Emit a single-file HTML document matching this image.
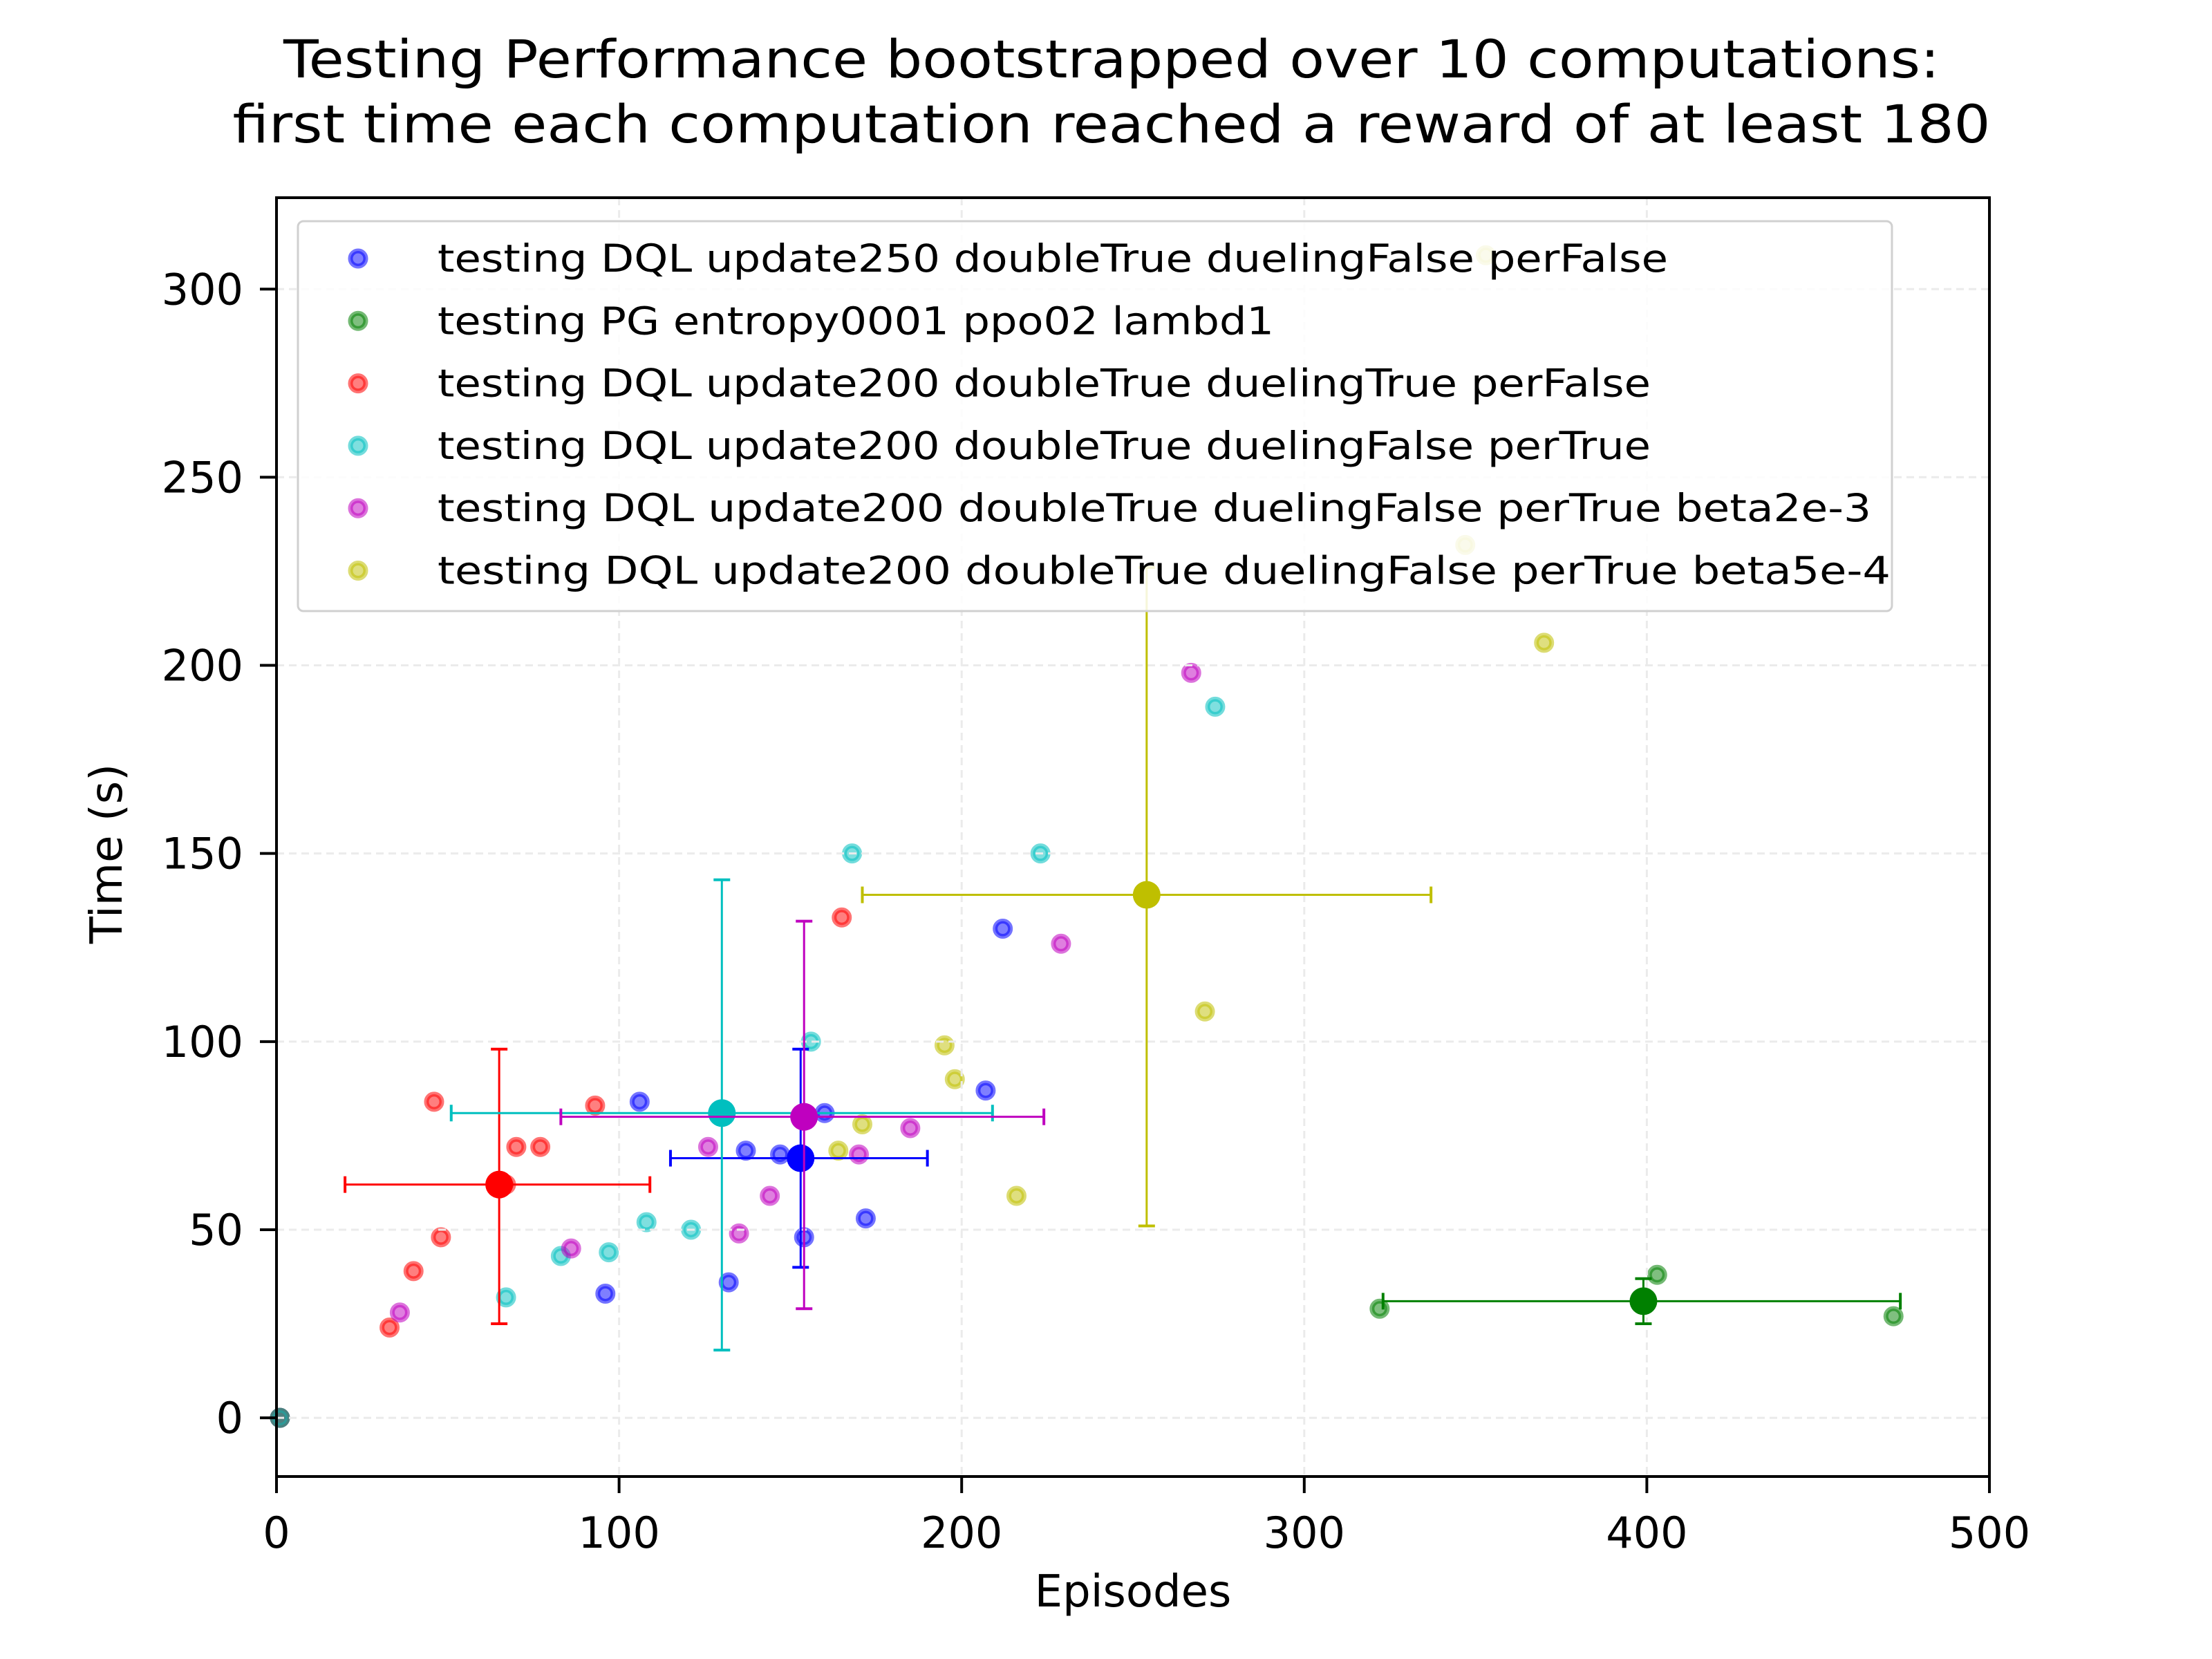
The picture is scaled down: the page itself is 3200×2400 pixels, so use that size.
<!DOCTYPE html>
<html><head><meta charset="utf-8"><style>
html,body{margin:0;padding:0;background:#fff}
svg{display:block;font-family:"DejaVu Sans","Liberation Sans",sans-serif}
</style></head><body>
<svg id="chart" xmlns="http://www.w3.org/2000/svg" width="3200" height="2400" viewBox="0 0 3200 2400">
<rect width="3200" height="2400" fill="#fff"/>
<text x="1608" y="112" font-size="76" text-anchor="middle" textLength="2396" lengthAdjust="spacingAndGlyphs">Testing Performance bootstrapped over 10 computations:</text>
<text x="1608" y="206" font-size="76" text-anchor="middle" textLength="2543" lengthAdjust="spacingAndGlyphs">first time each computation reached a reward of at least 180</text>
<g id="plot"></g>
<text x="1639" y="2324" font-size="64" text-anchor="middle">Episodes</text>
<text x="155" y="1235" font-size="64" text-anchor="middle" dominant-baseline="central" transform="rotate(-90 155 1235)">Time (s)</text>
</svg>
<script>
const xTicks=[0,100,200,300,400,500];
const yTicks=[0,50,100,150,200,250,300];
const seriesLabels=["testing DQL update250 doubleTrue duelingFalse perFalse","testing PG entropy0001 ppo02 lambd1","testing DQL update200 doubleTrue duelingTrue perFalse","testing DQL update200 doubleTrue duelingFalse perTrue","testing DQL update200 doubleTrue duelingFalse perTrue  beta2e-3","testing DQL update200 doubleTrue duelingFalse perTrue  beta5e-4"];
const seriesColors=["#0000ff","#008000","#ff0000","#00bfbf","#bf00bf","#bfbf00"];
const blueX=[1,96,106,132,137,147,154,160,172,207,212];
const blueY=[0,33,84,36,71,70,48,81,53,87,130];
const greenX=[1,322,403,472];
const greenY=[0,29,38,27];
const redX=[1,33,40,48,46,67,70,77,93,165];
const redY=[0,24,39,48,84,62,72,72,83,133];
const cyanX=[1,67,83,97,108,121,156,168,223,274];
const cyanY=[0,32,43,44,52,50,100,150,150,189];
const magentaX=[36,86,126,135,144,170,185,229,267];
const magentaY=[28,45,72,49,59,70,77,126,198];
const yellowX=[164,171,195,198,216,271,347,370,353];
const yellowY=[71,78,99,90,59,108,232,206,309];
const meanX=[153,399,65,130,154,254];
const meanY=[69,31,62,81,80,139];
const errXLo=[115,323,20,51,83,171];
const errXHi=[190,474,109,209,224,337];
const errYLo=[40,25,25,18,29,51];
const errYHi=[98,37,98,143,132,226];
const legendTextLengths=[1780,1210,1755,1755,2074,2102];

const L=400,R=2878,T=286,B=2136,X0=0,X1=500,Y0=-15.6,Y1=324.3;
const sx=v=>L+(v-X0)/(X1-X0)*(R-L);
const sy=v=>B-(v-Y0)/(Y1-Y0)*(B-T);
const NS="http://www.w3.org/2000/svg";
const g=document.getElementById('plot');
function mk(tag,attrs,parent){const e=document.createElementNS(NS,tag);for(const k in attrs)e.setAttribute(k,attrs[k]);(parent||g).appendChild(e);return e;}

const allX=[blueX,greenX,redX,cyanX,magentaX,yellowX],allY=[blueY,greenY,redY,cyanY,magentaY,yellowY];
allX.forEach((xs,s)=>{xs.forEach((v,i)=>{
  const c=mk('circle',{cx:sx(v),cy:sy(allY[s][i]),r:11,fill:seriesColors[s],'fill-opacity':0.5,stroke:seriesColors[s],'stroke-opacity':0.55,'stroke-width':7});
  
  
});});
xTicks.forEach(v=>{const l=mk('line',{x1:sx(v),x2:sx(v),y1:T,y2:B,stroke:'#ebebeb','stroke-width':3,'stroke-dasharray':'11 7'});
  
  });
yTicks.forEach(v=>{const l=mk('line',{x1:L,x2:R,y1:sy(v),y2:sy(v),stroke:'#ebebeb','stroke-width':3,'stroke-dasharray':'11 7'});
  
  });
meanX.forEach((m,s)=>{
  const col=seriesColors[s];const eg=mk('g',{});
  
  
  const y=sy(meanY[s]),x=sx(m);
  mk('line',{x1:sx(errXLo[s]),x2:sx(errXHi[s]),y1:y,y2:y,stroke:col,'stroke-width':3},eg);
  mk('line',{x1:x,x2:x,y1:sy(errYLo[s]),y2:sy(errYHi[s]),stroke:col,'stroke-width':3},eg);
  [errXLo[s],errXHi[s]].forEach(v=>mk('line',{x1:sx(v),x2:sx(v),y1:y-12,y2:y+12,stroke:col,'stroke-width':4},eg));
  [errYLo[s],errYHi[s]].forEach(v=>mk('line',{x1:x-12,x2:x+12,y1:sy(v),y2:sy(v),stroke:col,'stroke-width':4},eg));
  const c=mk('circle',{cx:x,cy:y,r:20,fill:col},eg);
  
  
});
mk('rect',{x:L,y:T,width:R-L,height:B-T,fill:'none',stroke:'#000','stroke-width':4});
xTicks.forEach(v=>{mk('line',{x1:sx(v),x2:sx(v),y1:B,y2:B+24,stroke:'#000','stroke-width':4});
  const t=mk('text',{x:sx(v),y:2239,'font-size':62,'text-anchor':'middle'});t.textContent=v;
  
  });
yTicks.forEach(v=>{mk('line',{x1:L-24,x2:L,y1:sy(v),y2:sy(v),stroke:'#000','stroke-width':4});
  const t=mk('text',{x:352,y:sy(v)+22,'font-size':62,'text-anchor':'end'});t.textContent=v;
  
  });
const lg=mk('g',{});


mk('rect',{x:431,y:320,width:2306,height:564,rx:8,fill:'#fff','fill-opacity':0.85,stroke:'#d0d0d0','stroke-width':3},lg);
seriesLabels.forEach((lab,i)=>{
  const cy=374+i*90.3;
  const e=mk('g',{},lg);
  
  
  mk('circle',{cx:518,cy:cy,r:11,fill:seriesColors[i],'fill-opacity':0.5,stroke:seriesColors[i],'stroke-opacity':0.55,'stroke-width':7},e);
  const t=mk('text',{x:633,y:cy+19,'font-size':55,textLength:legendTextLengths[i],lengthAdjust:'spacingAndGlyphs'},e);
  t.textContent=lab;
});
</script>
</body></html>
